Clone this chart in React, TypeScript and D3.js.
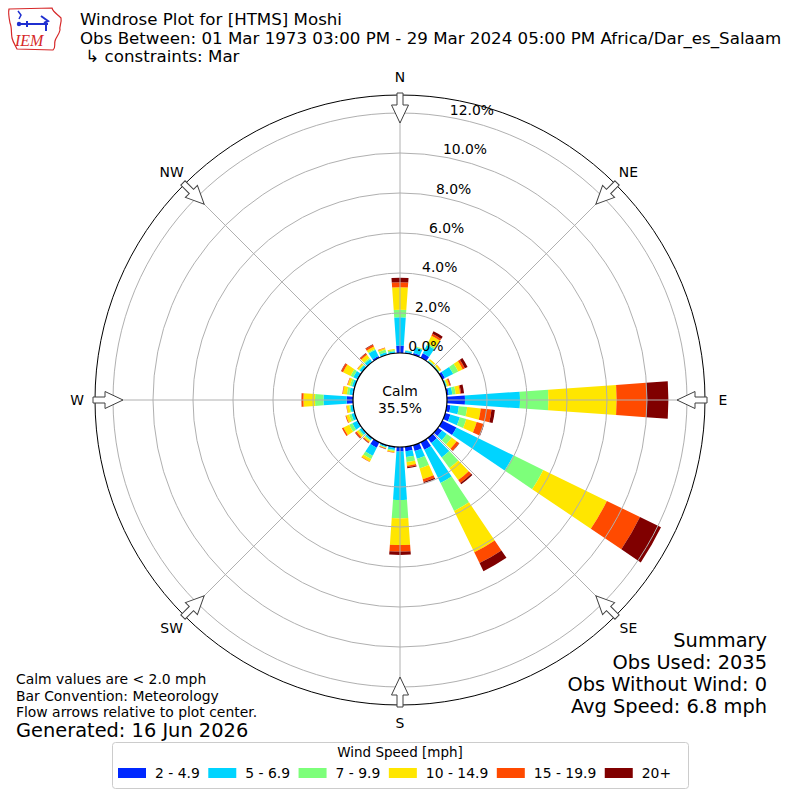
import React, { useEffect, useRef } from "react";
import * as d3 from "d3";

// wind direction bins (degrees, meteorological: where the wind comes from)
const directions = [
  0, 10, 20, 30, 40, 50, 60, 70, 80, 90, 100, 110, 120, 130, 140, 150, 160, 170,
  180, 190, 200, 210, 220, 230, 240, 250, 260, 270, 280, 290, 300, 310, 320, 330, 340, 350,
];

// frequency (%) per direction for each speed bin
const speed2to5 = [
  0.37, 0.05, 0.1, 0.25, 0.02, 0.02, 0.15, 0.03, 0.1, 0.9, 0.19, 0.27, 0.79, 0.25, 0.3, 0.42, 0.3, 0.23,
  0.23, 0.06, 0.06, 0.3, 0.05, 0.03, 0.05, 0.03, 0.03, 0.32, 0.05, 0.03, 0.05, 0.03, 0.03, 0.1, 0.02, 0.02,
];
const speed5to7 = [
  1.42, 0.08, 0.3, 0.46, 0.05, 0.04, 0.46, 0.05, 0.18, 2.75, 0.42, 0.49, 3.17, 0.3, 0.9, 1.85, 0.41, 0.29,
  2.42, 0.1, 0.05, 0.45, 0.08, 0.12, 0.25, 0.15, 0.12, 1.16, 0.15, 0.12, 0.2, 0.12, 0.15, 0.35, 0.12, 0.08,
];
const speed7to10 = [
  0.37, 0.02, 0.03, 0.09, 0.03, 0.03, 0.28, 0.04, 0.17, 1.42, 0.42, 0.34, 1.66, 0.3, 0.65, 1.55, 0.5, 0.25,
  0.92, 0.05, 0.03, 0.18, 0.05, 0.08, 0.18, 0.12, 0.05, 0.42, 0.12, 0.1, 0.15, 0.05, 0.07, 0.05, 0.14, 0.06,
];
const speed10to15 = [
  1.13, 0, 0.02, 0.43, 0.08, 0.1, 0.25, 0.1, 0.22, 3.41, 0.68, 0.54, 3.54, 0.3, 0.75, 2.3, 0.56, 0.18,
  1.33, 0.07, 0.03, 0.15, 0.07, 0.1, 0.32, 0.15, 0.13, 0.58, 0.2, 0.12, 0.42, 0.08, 0.2, 0.12, 0.08, 0.05,
];
const speed15to20 = [
  0.25, 0, 0, 0.1, 0, 0.01, 0.12, 0.06, 0.05, 1.5, 0.54, 0.36, 1.84, 0.15, 0.18, 0.6, 0.14, 0.08,
  0.33, 0.02, 0.02, 0.02, 0.05, 0.08, 0.08, 0.04, 0.02, 0.09, 0.03, 0.03, 0.1, 0.02, 0.08, 0.1, 0.02, 0.01,
];
const speed20plus = [
  0.22, 0, 0, 0.14, 0, 0, 0.15, 0.02, 0.15, 1.09, 0.17, 0.03, 1.17, 0.02, 0.08, 0.45, 0.06, 0.05,
  0.17, 0, 0.02, 0, 0.02, 0.02, 0, 0, 0, 0.01, 0, 0, 0.02, 0, 0.02, 0.03, 0, 0,
];

const speedLabels = ["2 - 4.9", "5 - 6.9", "7 - 9.9", "10 - 14.9", "15 - 19.9", "20+"];
const speedColors = ["#0028ff", "#00d4ff", "#7dff7a", "#ffe600", "#ff4a00", "#800000"];
const ringTicks = [0, 2, 4, 6, 8, 10, 12];
const compassNames = ["N", "NE", "E", "SE", "S", "SW", "W", "NW"];
const compassAngles = [0, 45, 90, 135, 180, 225, 270, 315];

const calmPct = "35.5%";
const titleLines = [
  "Windrose Plot for [HTMS] Moshi",
  "Obs Between: 01 Mar 1973 03:00 PM - 29 Mar 2024 05:00 PM Africa/Dar_es_Salaam",
  " \u21b3 constraints: Mar",
];
const noteLines = [
  "Calm values are < 2.0 mph",
  "Bar Convention: Meteorology",
  "Flow arrows relative to plot center.",
];
const summaryLines = ["Summary", "Obs Used: 2035", "Obs Without Wind: 0", "Avg Speed: 6.8 mph"];

const FONT = "DejaVu Sans, sans-serif";

const App = () => {
  const svgRef = useRef<SVGSVGElement | null>(null);

  useEffect(() => {
    const width = 800;
    const height = 800;
    const cx = 400;
    const cy = 400;
    const outerR = 305;

    const svg = d3.select(svgRef.current).attr("width", width).attr("height", height);
    svg.selectAll("*").remove();

    svg.append("rect").attr("width", width).attr("height", height).attr("fill", "white");

    const r = d3.scaleLinear().domain([0, 12.9]).range([47, outerR]);
    const rad = (deg: number) => (deg * Math.PI) / 180;

    const keys = ["s0", "s1", "s2", "s3", "s4", "s5"];
    const series = [speed2to5, speed5to7, speed7to10, speed10to15, speed15to20, speed20plus];
    const rows = directions.map((dir, i) => {
      const row: any = { dir };
      keys.forEach((k, j) => (row[k] = series[j][i]));
      return row;
    });
    const stacked = d3.stack().keys(keys)(rows);

    const plot = svg.append("g").attr("transform", `translate(${cx},${cy})`);

    const arc = d3
      .arc<any>()
      .innerRadius((d) => r(d[0]))
      .outerRadius((d) => r(d[1]))
      .startAngle((d) => rad(d.data.dir - 4))
      .endAngle((d) => rad(d.data.dir + 4));

    stacked.forEach((layer, li) => {
      plot
        .append("g")
        .selectAll("path")
        .data(layer.filter((d) => d[1] - d[0] > 0))
        .enter()
        .append("path")
        .attr("d", arc)
        .attr("fill", speedColors[li]);
    });

    // grid on top of the bars
    plot
      .append("g")
      .selectAll("circle")
      .data(ringTicks.filter((t) => t > 0))
      .enter()
      .append("circle")
      .attr("r", (d) => r(d))
      .attr("fill", "none")
      .attr("stroke", "#b0b0b0")
      .attr("stroke-width", 1);

    plot
      .append("g")
      .selectAll("line")
      .data(compassAngles)
      .enter()
      .append("line")
      .attr("x1", (d) => r(0) * Math.sin(rad(d)))
      .attr("y1", (d) => -r(0) * Math.cos(rad(d)))
      .attr("x2", (d) => outerR * Math.sin(rad(d)))
      .attr("y2", (d) => -outerR * Math.cos(rad(d)))
      .attr("stroke", "#b0b0b0")
      .attr("stroke-width", 1);

    plot
      .append("circle")
      .attr("r", outerR)
      .attr("fill", "none")
      .attr("stroke", "black")
      .attr("stroke-width", 1);

    // ring labels
    plot
      .append("g")
      .selectAll("text")
      .data(ringTicks)
      .enter()
      .append("text")
      .attr("x", (d) => r(d) * Math.sin(rad(10)))
      .attr("y", (d) => -r(d) * Math.cos(rad(10)) - 2.5)
      .attr("font-family", FONT)
      .attr("font-size", 13.9)
      .attr("fill", "black")
      .text((d) => `${d.toFixed(1)}%`);

    // calm circle
    plot
      .append("circle")
      .attr("r", r(0))
      .attr("fill", "white")
      .attr("stroke", "black")
      .attr("stroke-width", 1.2);
    plot
      .append("text")
      .attr("y", -4)
      .attr("text-anchor", "middle")
      .attr("font-family", FONT)
      .attr("font-size", 13.9)
      .text("Calm");
    plot
      .append("text")
      .attr("y", 13)
      .attr("text-anchor", "middle")
      .attr("font-family", FONT)
      .attr("font-size", 13.9)
      .text(calmPct);

    // flow arrows on the rim
    const arrowPath = "M -3,-307 L 3,-307 L 3,-295 L 8.5,-295 L 0,-277 L -8.5,-295 L -3,-295 Z";
    plot
      .append("g")
      .selectAll("path")
      .data(compassAngles)
      .enter()
      .append("path")
      .attr("d", arrowPath)
      .attr("transform", (d) => `rotate(${d})`)
      .attr("fill", "white")
      .attr("stroke", "#404040")
      .attr("stroke-width", 1);

    // compass labels
    plot
      .append("g")
      .selectAll("text")
      .data(compassNames)
      .enter()
      .append("text")
      .attr("x", (d, i) => 323 * Math.sin(rad(compassAngles[i])))
      .attr("y", (d, i) => -323 * Math.cos(rad(compassAngles[i])))
      .attr("text-anchor", "middle")
      .attr("dominant-baseline", "central")
      .attr("font-family", FONT)
      .attr("font-size", 13.9)
      .text((d) => d);

    // header
    titleLines.forEach((line, i) => {
      svg
        .append("text")
        .attr("x", 80)
        .attr("y", 25 + i * 18.5)
        .attr("font-family", FONT)
        .attr("font-size", 16.67)
        .style("white-space", "pre")
        .text(line);
    });

    // IEM logo
    const logo = svg.append("g");
    logo
      .append("path")
      .attr(
        "d",
        "M 9,9 L 52,8 C 53,12 57,14 61,18 C 62,23 59,26 60,30 C 59,35 56,37 55,41 C 54,45 56,48 53,50 L 17,49 C 15,45 13,42 12,38 C 11,33 12,27 10,23 C 9,18 8,13 9,9 Z"
      )
      .attr("fill", "white")
      .attr("stroke", "#d62728")
      .attr("stroke-width", 1.2);
    logo
      .append("path")
      .attr("d", "M 20,24 L 48,24 M 27,21 L 27,27 M 41,16 L 48,21 L 44,23 M 46,25 L 46,31")
      .attr("fill", "none")
      .attr("stroke", "#1f2fd0")
      .attr("stroke-width", 2);
    logo.append("circle").attr("cx", 19).attr("cy", 24).attr("r", 2.2).attr("fill", "#1f2fd0");
    logo
      .append("path")
      .attr("d", "M 18,11 L 21,15 L 19,19")
      .attr("fill", "none")
      .attr("stroke", "#1f2fd0")
      .attr("stroke-width", 1.5);
    logo
      .append("text")
      .attr("x", 15)
      .attr("y", 46)
      .attr("font-family", "Liberation Serif, serif")
      .attr("font-style", "italic")
      .attr("font-size", 16)
      .attr("fill", "#d62728")
      .text("IEM");

    // notes bottom left
    noteLines.forEach((line, i) => {
      svg
        .append("text")
        .attr("x", 16)
        .attr("y", 684 + i * 16.5)
        .attr("font-family", FONT)
        .attr("font-size", 13.9)
        .text(line);
    });
    svg
      .append("text")
      .attr("x", 16)
      .attr("y", 737)
      .attr("font-family", FONT)
      .attr("font-size", 19.4)
      .text("Generated: 16 Jun 2026");

    // summary bottom right
    summaryLines.forEach((line, i) => {
      svg
        .append("text")
        .attr("x", 767)
        .attr("y", 647 + i * 22)
        .attr("text-anchor", "end")
        .attr("font-family", FONT)
        .attr("font-size", 19.4)
        .text(line);
    });

    // legend
    const legend = svg.append("g");
    legend
      .append("rect")
      .attr("x", 112.5)
      .attr("y", 742.5)
      .attr("width", 576)
      .attr("height", 46)
      .attr("rx", 3)
      .attr("fill", "white")
      .attr("stroke", "#cccccc")
      .attr("stroke-width", 1);
    legend
      .append("text")
      .attr("x", 400)
      .attr("y", 757)
      .attr("text-anchor", "middle")
      .attr("font-family", FONT)
      .attr("font-size", 13.5)
      .text("Wind Speed [mph]");

    let x = 118;
    speedLabels.forEach((label, i) => {
      legend
        .append("rect")
        .attr("x", x)
        .attr("y", 768)
        .attr("width", 28)
        .attr("height", 10)
        .attr("fill", speedColors[i]);
      const t = legend
        .append("text")
        .attr("x", x + 37)
        .attr("y", 778)
        .attr("font-family", FONT)
        .attr("font-size", 13.9)
        .text(label);
      const w = (t.node() as SVGTextElement).getComputedTextLength();
      x = x + 37 + w + 8.5;
    });
  }, []);

  return (
    <svg
      ref={svgRef}
      style={{ position: "absolute", left: 0, top: 0, display: "block" }}
    ></svg>
  );
};

export default App;
